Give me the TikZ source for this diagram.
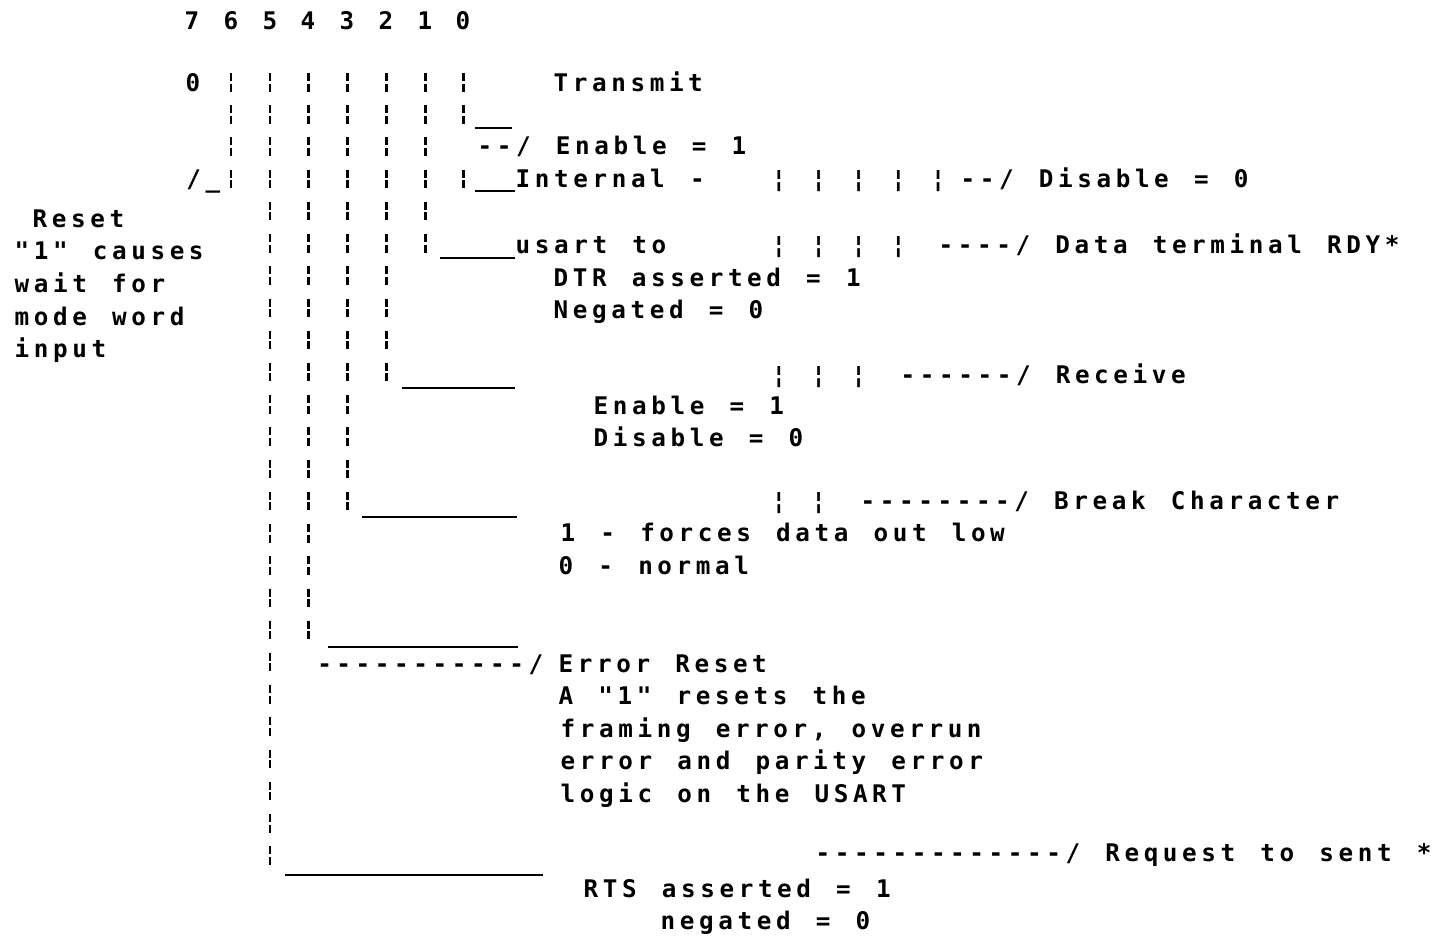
\documentclass[tikz,border=0pt]{standalone}
\usepackage{fontspec}
\setmonofont{DejaVu Sans Mono}[LetterSpace=19, WordSpace=1.31]
\usetikzlibrary{positioning}

\tikzset{
  txt/.style={font=\ttfamily\bfseries\fontsize{6.9pt}{8pt}\selectfont,
              inner sep=0pt, anchor=base west},
  bitnum/.style={font=\ttfamily\bfseries\fontsize{6.9pt}{8pt}\selectfont,
                 inner sep=0pt, anchor=base},
  bitline/.style={line width=0.85pt,
                  dash pattern=on 0.08cm off 0.025cm on 0.08cm off 0.137cm},
  rule/.style={line width=0.75pt},
}

\begin{document}
\begin{tikzpicture}[x=0.01cm, y=-0.01cm]
  \useasboundingbox (0,0) rectangle (1446,938);

  % bit numbers
  \foreach \b/\x in {7/192,6/231,5/270,4/308,3/347,2/386,1/425,0/463}
    \node[bitnum] (b\b) at (\x,29) {\b};

  \node[txt] (zero7) at (185,91) {0};
  \coordinate (top) at (0,73);

  % bit lines
  \coordinate (e6) at (0,188);
  \coordinate (e0a) at (0,124);
  \coordinate (s0b) at (0,169.6);
  \coordinate (e0b) at (0,188);
  \coordinate (e1) at (0,253);
  \coordinate (e2) at (0,382);
  \coordinate (e3) at (0,511);
  \coordinate (e4) at (0,640);
  \coordinate (e5) at (0,865);

  \draw[bitline] (b6 |- top) -- (b6 |- e6);
  \draw[bitline] (b5 |- top) -- (b5 |- e5);
  \draw[bitline] (b4 |- top) -- (b4 |- e4);
  \draw[bitline] (b3 |- top) -- (b3 |- e3);
  \draw[bitline] (b2 |- top) -- (b2 |- e2);
  \draw[bitline] (b1 |- top) -- (b1 |- e1);
  \draw[bitline] (b0 |- top) -- (b0 |- e0a);
  \draw[bitline] (b0 |- s0b) -- (b0 |- e0b);

  % bit 6: reset
  \node[txt, anchor=base east] (slash6) at (221,187) {/\_};
  \node[txt] (rst)  at (32,227)  {Reset};
  \node[txt] (rst1) at (14,259)  {"1" causes};
  \node[txt] (rst2) at (14,292)  {wait for};
  \node[txt] (rst3) at (14,325)  {mode word};
  \node[txt] (rst4) at (14,357)  {input};

  % bit 0: transmit
  \node[txt] (tx)   at (553,91)  {Transmit};
  \coordinate (u0a) at (475,128);
  \draw[rule] (u0a) -- ++(37,0);
  \node[txt] (txen) at (477,154) {--/ Enable = 1};
  \node[txt] (txin) at (515,187) {Internal -};
  \draw[rule] (txin.west |- 0,191) -- ++(-40,0);
  \node[txt] (bars0) at (771,187) {¦ ¦ ¦ ¦ ¦};
  \node[txt] (txdis) at (960,187) {--/ Disable = 0};

  % bit 1: DTR
  \node[txt] (dtr) at (515,253) {usart to};
  \draw[rule] (dtr.west |- 0,258) -- ++(-75,0);
  \node[txt] (bars1) at (771,253) {¦ ¦ ¦ ¦};
  \node[txt] (dtrt) at (938,253) {----/ Data terminal RDY*};
  \node[txt] (dtra) at (553,286) {DTR asserted = 1};
  \node[txt] (dtrn) at (553,318) {Negated = 0};

  % bit 2: receive
  \coordinate (u2) at (402,388);
  \draw[rule] (u2) -- ++(113,0);
  \node[txt] (bars2) at (771,383) {¦ ¦ ¦};
  \node[txt] (rx)   at (900,383) {------/ Receive};
  \node[txt] (rxen) at (593,414) {Enable = 1};
  \node[txt] (rxdis) at (593,446) {Disable = 0};

  % bit 3: break
  \coordinate (u3) at (362,517);
  \draw[rule] (u3) -- ++(155,0);
  \node[txt] (bars3) at (771,509) {¦ ¦};
  \node[txt] (brk)  at (860,509) {--------/ Break Character};
  \node[txt] (brk1) at (560,541) {1 - forces data out low};
  \node[txt] (brk0) at (558,574) {0 - normal};

  % bit 4: error reset
  \coordinate (u4) at (328,647);
  \draw[rule] (u4) -- ++(190,0);
  \node[txt, anchor=base east] (errd) at (544,672) {-----------/};
  \node[txt] (err)  at (558,672) {Error Reset};
  \node[txt] (err1) at (558,704) {A "1" resets the};
  \node[txt] (err2) at (560,737) {framing error, overrun};
  \node[txt] (err3) at (560,769) {error and parity error};
  \node[txt] (err4) at (560,802) {logic on the USART};

  % bit 5: request to send
  \coordinate (u5) at (285,875);
  \draw[rule] (u5) -- ++(258,0);
  \node[txt] (rts)  at (815,861) {-------------/ Request to sent *};
  \node[txt] (rtsa) at (583,897) {RTS asserted = 1};
  \node[txt] (rtsn) at (660,929) {negated = 0};
\end{tikzpicture}
\end{document}
